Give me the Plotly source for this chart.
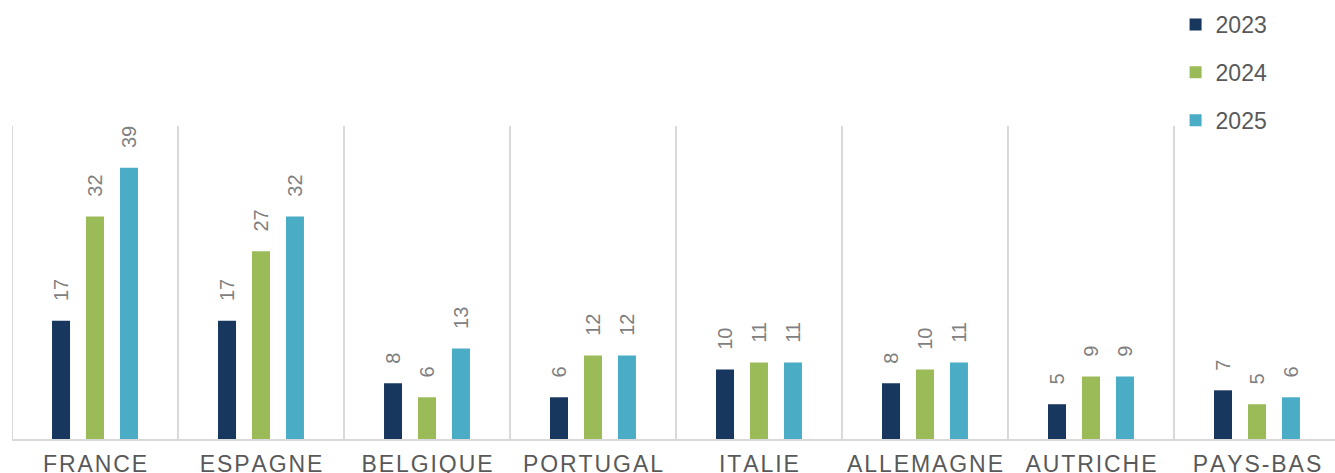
import plotly.graph_objects as go

# 数据
pays = ["FRANCE", "ESPAGNE", "BELGIQUE", "PORTUGAL", "ITALIE", "ALLEMAGNE", "AUTRICHE", "PAYS-BAS"]
annees = ["2023", "2024", "2025"]
v2023 = [17, 17, 8, 6, 10, 8, 5, 7]
v2024 = [32, 27, 6, 12, 11, 10, 9, 5]
v2025 = [39, 32, 13, 12, 11, 11, 9, 6]
couleurs = ["#17375e", "#9bbb59", "#4bacc6"]

GRIS_LIGNE = "#d9d9d9"
POLICE = "Liberation Sans, Arial, sans-serif"
ESPACE = "\u200a"


def espacer(txt):
    """Simule l'espacement des lettres des étiquettes."""
    return ESPACE.join(txt)


labels = [espacer(p) for p in pays]

fig = go.Figure()
for nom, vals, coul in zip(annees, [v2023, v2024, v2025], couleurs):
    fig.add_trace(
        go.Bar(
            x=labels,
            y=vals,
            name=nom,
            marker=dict(color=coul, line=dict(width=0)),
            text=vals,
            texttemplate="\u00a0\u00a0\u00a0%{text}",
            textposition="outside",
            textangle=-90,
            constraintext="none",
            textfont=dict(size=20, color="#7f7f7f", family=POLICE),
            cliponaxis=False,
            legendgroup=nom,
        )
    )

# lignes verticales entre les catégories
for i in range(len(pays) + 1):
    fig.add_shape(
        type="line",
        xref="x",
        yref="paper",
        x0=i - 0.5,
        x1=i - 0.5,
        y0=0,
        y1=1,
        line=dict(color=GRIS_LIGNE, width=2),
        layer="below",
    )

fig.update_layout(
    width=1335,
    height=473,
    margin=dict(l=12, r=0, t=126, b=34, autoexpand=False),
    plot_bgcolor="white",
    paper_bgcolor="white",
    barmode="group",
    bargap=0.386,
    bargroupgap=0.47,
    font=dict(family=POLICE, color="#595959"),
    showlegend=True,
    legend=dict(
        x=0.8795,
        xanchor="left",
        y=1.393,
        yanchor="top",
        font=dict(size=23, color="#595959"),
        tracegroupgap=15,
        bgcolor="rgba(0,0,0,0)",
    ),
)
fig.update_xaxes(
    type="category",
    range=[-0.5, 7.47],
    automargin=False,
    showgrid=False,
    showline=True,
    linecolor=GRIS_LIGNE,
    linewidth=2,
    ticks="",
    ticklabelstandoff=3,
    tickfont=dict(size=23, color="#595959"),
    fixedrange=True,
)
fig.update_yaxes(
    range=[0, 45],
    visible=False,
    automargin=False,
    showgrid=False,
    zeroline=False,
    fixedrange=True,
)

# pas de marge autour du graphique dans la page
fig.write_html(
    "out.html",
    config={"displayModeBar": False},
    post_script="document.body.style.margin='0';",
)
